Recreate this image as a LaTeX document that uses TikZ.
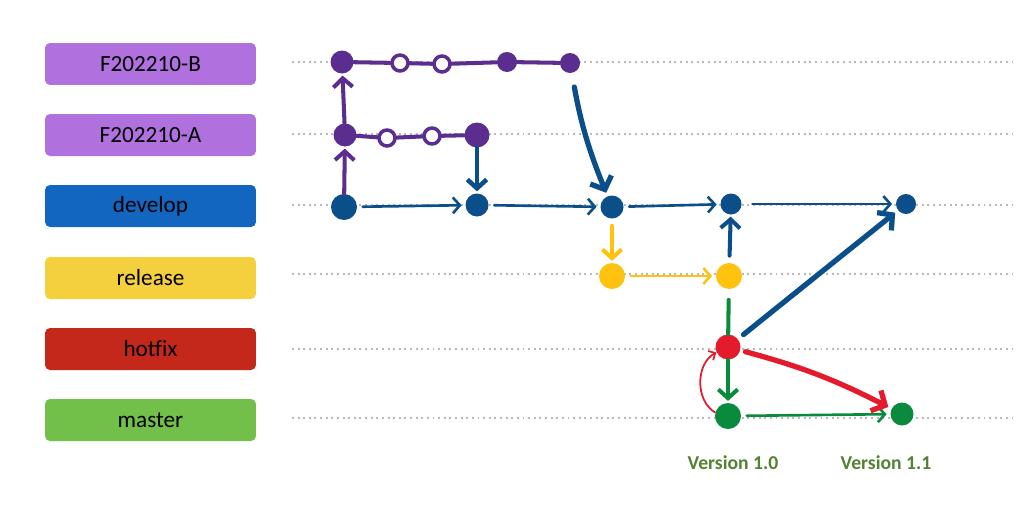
\documentclass[tikz,border=0pt]{standalone}
\usepackage{fontspec}
\setmainfont{Carlito}
\usetikzlibrary{arrows.meta}
\definecolor{featbox}{HTML}{B070DE}
\definecolor{devbox}{HTML}{1366C0}
\definecolor{relbox}{HTML}{F4D03E}
\definecolor{hotbox}{HTML}{C4281B}
\definecolor{masbox}{HTML}{72BF4A}
\definecolor{featline}{HTML}{5B2D8E}
\definecolor{devline}{HTML}{0B4F8A}
\definecolor{relline}{HTML}{FFC20F}
\definecolor{hotline}{HTML}{E31B2D}
\definecolor{masline}{HTML}{0A8A3C}
\definecolor{vergreen}{HTML}{548235}

\begin{document}
\begin{tikzpicture}[x=0.02cm, y=-0.02cm,
  lane/.style={rounded corners=0.1cm, minimum width=4.22cm, minimum height=0.84cm, font=\fontsize{13.2}{15}\selectfont, text=black},
  guide/.style={gray!55, line width=1.2pt, dash pattern=on 1.1pt off 2.1pt},
  commit/.style={circle, fill, inner sep=0pt, minimum size=0.42cm},
  wip/.style={circle, draw=featline, fill=white, line width=2pt, inner sep=0pt, minimum size=0.32cm},
  chain/.style={featline, line width=2.3pt, line cap=round},
  flow/.style={line width=1.5pt, line cap=round, shorten >=2pt, shorten <=3pt, -{Straight Barb[length=4pt,width=9pt]}},
  push/.style={line width=2.3pt, line cap=round, shorten >=1pt, -{Straight Barb[length=5pt,width=11pt]}},
  merge/.style={line width=3pt, line cap=round, shorten >=2pt, -{Straight Barb[length=6pt,width=13pt]}},
  version/.style={font=\bfseries\fontsize{11.2}{13}\selectfont, text=vergreen}]
\useasboundingbox (0,0) rectangle (1016,504);

\node[lane, fill=featbox] (lb) at (150.5,64) {F202210-B};
\node[lane, fill=featbox] (la) at (150.5,135) {F202210-A};
\node[lane, fill=devbox] (ld) at (150.5,206) {develop};
\node[lane, fill=relbox] (lr) at (150.5,278) {release};
\node[lane, fill=hotbox] (lh) at (150.5,349) {hotfix};
\node[lane, fill=masbox] (lm) at (150.5,420) {master};

\foreach \y in {62,134,205,274,349,418}
  \draw[guide] (292,\y) -- (1012,\y);

\node[commit, featline, minimum size=0.46cm] (b1) at (342,62) {};
\node[wip] (b2) at (400,63) {};
\node[wip] (b3) at (442,64) {};
\node[commit, featline, minimum size=0.4cm] (b4) at (507,62) {};
\node[commit, featline, minimum size=0.4cm] (b5) at (570,63) {};
\node[commit, featline, minimum size=0.46cm] (a1) at (345,135) {};
\node[wip] (a2) at (387,138) {};
\node[wip] (a3) at (432,136) {};
\node[commit, featline, minimum size=0.5cm] (a4) at (477,135) {};
\node[commit, devline, minimum size=0.52cm] (d1) at (344,207) {};
\node[commit, devline, minimum size=0.46cm] (d2) at (477,205) {};
\node[commit, devline, minimum size=0.46cm] (d3) at (612,207) {};
\node[commit, devline] (d4) at (731,204) {};
\node[commit, devline, minimum size=0.4cm] (d5) at (906,204) {};
\node[commit, relline, minimum size=0.52cm] (r1) at (612,276) {};
\node[commit, relline, minimum size=0.52cm] (r2) at (729,276) {};
\node[commit, hotline, minimum size=0.5cm] (h1) at (728,347) {};
\node[commit, masline, minimum size=0.52cm] (m1) at (728,416) {};
\node[commit, masline, minimum size=0.46cm] (m2) at (902,414) {};

\draw[chain] (b1) -- (b2) -- (b3) -- (b4) -- (b5);
\draw[chain] (a1) -- (a2) -- (a3) -- (a4);
\draw[push, featline] (d1) -- (a1);
\draw[push, featline] (a1) -- (b1);
\draw[push, devline, line width=2.6pt] (a4) -- (d2);
\draw[merge, devline, shorten <=8pt] (b5) to[bend right=6] (d3);
\draw[flow, devline] (d1) -- (d2);
\draw[flow, devline] (d2) -- (d3);
\draw[flow, devline] (d3) -- (d4);
\draw[flow, devline, shorten <=6pt] (d4) -- (d5);
\draw[push, relline, shorten <=4pt] (d3) -- (r1);
\draw[flow, relline] (r1) -- (r2);
\draw[push, devline, shorten <=4pt] (r2) -- (d4);
\draw[masline, line width=2.3pt, line cap=round, shorten <=6pt] (r2) -- (h1);
\draw[push, masline] (h1) -- (m1);
\draw[flow, masline] (m1) -- (m2);
\draw[merge, devline, shorten <=4pt] (h1) -- (d5);
\draw[merge, hotline, shorten <=3pt] (h1) to[bend left=6] (m2);
\draw[hotline, line width=1pt, line cap=round, -{Straight Barb[length=3pt,width=6pt]}] (m1.165) to[bend left=60] (h1.205);

\node[version] (v10) at (733,463) {Version 1.0};
\node[version] (v11) at (886,463) {Version 1.1};
\end{tikzpicture}
\end{document}
